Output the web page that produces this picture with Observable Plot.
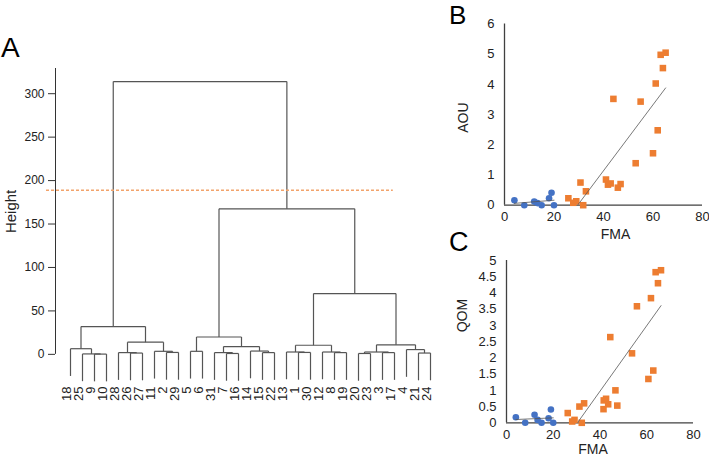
<!DOCTYPE html>
<html><head><meta charset="utf-8">
<script src="https://cdn.jsdelivr.net/npm/d3@7"></script>
<script src="https://cdn.jsdelivr.net/npm/@observablehq/plot@0.6"></script>
<style>
body{margin:0;background:#fff;font-family:"Liberation Sans",Arial,sans-serif;}
#root{position:relative;width:709px;height:458px;overflow:hidden;background:#fff;}
.panel{position:absolute;}
.letter{position:absolute;line-height:1;color:#000;font-family:"Liberation Sans",Arial,sans-serif;}
</style></head><body><div id="root"></div>
<script>
// ---------- Panel A: dendrogram data ----------
const leafOrder = [18,25,9,10,28,26,27,11,2,29,5,6,31,7,16,14,15,22,13,1,30,12,8,19,20,23,3,17,4,21,24];
// R-style merge table: negative = observation label, positive = earlier merge step (1-based)
const merges = [
  [-9,-10],[-25,1],[-18,2],[-26,-27],[-28,4],[-2,-29],[-11,6],[5,7],[3,8],
  [-5,-6],[-7,-16],[-31,11],[-15,-22],[-14,13],[12,14],[10,15],
  [-1,-30],[-13,17],[-8,-19],[-12,19],[18,20],
  [-20,-23],[-3,-17],[22,23],[-21,-24],[-4,25],[24,26],
  [21,27],[16,28],[9,29]
];
const mergeHeights = [0.3,0.5,6.5,1.5,2,2.2,3.5,14,32, 3.5,1,2,2,3.8,9,20, 2.2,2.7,2,2.7,10.5, 1,2,2.7,1.5,5.5,11, 70,167.5,314];
const heightTicks = [0,50,100,150,200,250,300];
const cutHeight = 189;
const cutSpan = [-2, 26.9];   // extent of the cut line, in leaf-index units
const axisTopA = 329;

// ---------- Panels B & C: scatter data ----------
const fmaBlue  = [4, 8, 12, 13.3, 15, 18, 19, 20];
const aouBlue  = [0.16, 0, 0.12, 0.07, 0, 0.23, 0.41, 0];
const qomBlue  = [0.17, 0, 0.25, 0.09, 0, 0.14, 0.41, 0];
const fmaOrangeB = [25.8,27.8,29,30.7,31.8,32.9,41,41.8,42.9,44,45.8,46.9,53,55,60,61.1,61.9,63.1,64,65.1];
const aouOrange  = [0.23,0.08,0.13,0.75,0,0.46,0.85,0.68,0.72,3.52,0.58,0.7,1.39,3.43,1.72,4.03,2.48,4.98,4.54,5.05];
const fmaOrangeC = [26.2,28.1,29.1,31.2,32.2,33.2,41.5,41.6,42.6,43.5,44.4,46.6,47.4,53.7,55.8,60.7,61.8,62.8,63.8,64.8,66.1];
const qomOrange  = [0.3,0.04,0.09,0.5,0,0.6,0.42,0.69,0.74,0.57,2.64,1.0,0.53,2.14,3.59,1.35,3.84,1.61,4.64,4.3,4.7];
const fmaTicks = [0,20,40,60,80];
const aouTicks = [0,1,2,3,4,5,6];
const qomTicks = [0,0.5,1,1.5,2,2.5,3,3.5,4,4.5,5];

const BLUE = "#4472C4", ORANGE = "#ED7D31", FONT = "'Liberation Sans', Arial, sans-serif";

// ---------- build dendrogram segments ----------
const hang = 0.1 * (d3.max(mergeHeights) - d3.min(mergeHeights));
const pos = new Map(leafOrder.map((l, i) => [l, i]));
const nodes = [], segs = [];
merges.forEach(([a, b], k) => {
  const h = mergeHeights[k];
  const kids = [a, b].map(c => c < 0 ? {x: pos.get(-c), bottom: h - hang} : {x: nodes[c - 1].x, bottom: nodes[c - 1].h});
  kids.forEach(c => segs.push({x1: c.x, y1: h, x2: c.x, y2: c.bottom}));
  segs.push({x1: kids[0].x, y1: h, x2: kids[1].x, y2: h});
  nodes.push({x: (kids[0].x + kids[1].x) / 2, h});
});

const xDomA = [-1.25, 31.5];
const plotA = Plot.plot({
  width: 450, height: 458, marginLeft: 55, marginRight: 2, marginTop: 68, marginBottom: 72,
  style: {background: "transparent", fontFamily: FONT, fontSize: "12px", color: "#222", overflow: "visible"},
  x: {domain: xDomA, axis: null},
  y: {domain: [-37, axisTopA]},
  marks: [
    Plot.axisY({ticks: heightTicks, tickSize: 7, tickPadding: 4, label: null, fontSize: 12, stroke: "#333"}),
    Plot.ruleX([xDomA[0]], {y1: 0, y2: axisTopA, stroke: "#333"}),
    Plot.link(segs, {x1: "x1", y1: "y1", x2: "x2", y2: "y2", stroke: "#555", strokeWidth: 1.2}),
    Plot.ruleY([cutHeight], {x1: cutSpan[0], x2: cutSpan[1], stroke: "#F2A36B", strokeWidth: 1.5, strokeDasharray: "3,2"}),
    Plot.text(leafOrder, {x: (d, i) => i, text: d => String(d), frameAnchor: "bottom", rotate: -90, textAnchor: "end", fontSize: 13, fill: "#222"}),
    Plot.text(["Height"], {y: () => axisTopA / 2, frameAnchor: "left", textAnchor: "middle", dx: -44, rotate: -90, fontSize: 15, fill: "#222"})
  ]
});

function scatter({fb, yb, fo, yo, yTicks, yMax, yLabel, w, h, ml, mr, mt, mb, fmaDx, fmaDy, labDx, labDy}) {
  const blue = fb.map((x, i) => ({x, y: yb[i]}));
  const orange = fo.map((x, i) => ({x, y: yo[i]}));
  return Plot.plot({
    width: w, height: h, marginLeft: ml, marginRight: mr, marginTop: mt, marginBottom: mb,
    style: {background: "transparent", fontFamily: FONT, fontSize: "13px", color: "#222", overflow: "visible"},
    x: {domain: [0, 80]},
    y: {domain: [0, yMax]},
    marks: [
      Plot.axisX({ticks: fmaTicks, tickSize: 0, tickPadding: 7, label: null, fontSize: 13}),
      Plot.axisY({ticks: yTicks, tickSize: 0, tickPadding: 10, label: null, fontSize: 13, tickFormat: d => String(d)}),
      Plot.ruleX([0], {y1: 0, y2: yMax, stroke: "#404040", strokeWidth: 1.3}),
      Plot.ruleY([0], {x1: 0, x2: 80, stroke: "#404040", strokeWidth: 1.3}),
      Plot.dot(blue, {x: "x", y: "y", r: 3.3, fill: BLUE, symbol: "circle"}),
      Plot.dot(orange, {x: "x", y: "y", r: 3.7, fill: ORANGE, symbol: "square"}),
      Plot.linearRegressionY(blue, {x: "x", y: "y", stroke: "#555", strokeWidth: 0.8, ci: 0, clip: true}),
      Plot.linearRegressionY(orange, {x: "x", y: "y", stroke: "#555", strokeWidth: 0.8, ci: 0, clip: true}),
      Plot.text(["FMA"], {frameAnchor: "bottom", textAnchor: "middle", dx: fmaDx, dy: fmaDy, fontSize: 14, fill: "#222"}),
      Plot.text([yLabel], {frameAnchor: "left", textAnchor: "middle", dx: labDx, dy: labDy, rotate: -90, fontSize: 14, fill: "#222"})
    ]
  });
}

const plotB = scatter({fb: fmaBlue, yb: aouBlue, fo: fmaOrangeB, yo: aouOrange, yTicks: aouTicks, yMax: 6, yLabel: "AOU",
  w: 309, h: 250, ml: 104, mr: 7, mt: 23.5, mb: 45.3, fmaDx: 12, fmaDy: 33.5, labDx: -41, labDy: 3});
const plotC = scatter({fb: fmaBlue, yb: qomBlue, fo: fmaOrangeC, yo: qomOrange, yTicks: qomTicks, yMax: 5, yLabel: "QOM",
  w: 309, h: 228, ml: 106, mr: 16, mt: 30, mb: 35.7, fmaDx: -7, fmaDy: 31, labDx: -44, labDy: -26});

const root = document.getElementById("root");
function place(el, left, top) {
  const d = document.createElement("div");
  d.className = "panel"; d.style.left = left + "px"; d.style.top = top + "px";
  d.appendChild(el); root.appendChild(d);
}
place(plotA, 0, 0);
place(plotB, 400, 0);
place(plotC, 400, 230);
function letter(t, left, top, size) {
  const d = document.createElement("div");
  d.className = "letter"; d.textContent = t;
  d.style.left = left + "px"; d.style.top = top + "px"; d.style.fontSize = size + "px";
  root.appendChild(d);
}
letter("A", 1, 34, 28);
letter("B", 449, 2, 26);
letter("C", 449, 229, 27);
</script>
</body></html>
